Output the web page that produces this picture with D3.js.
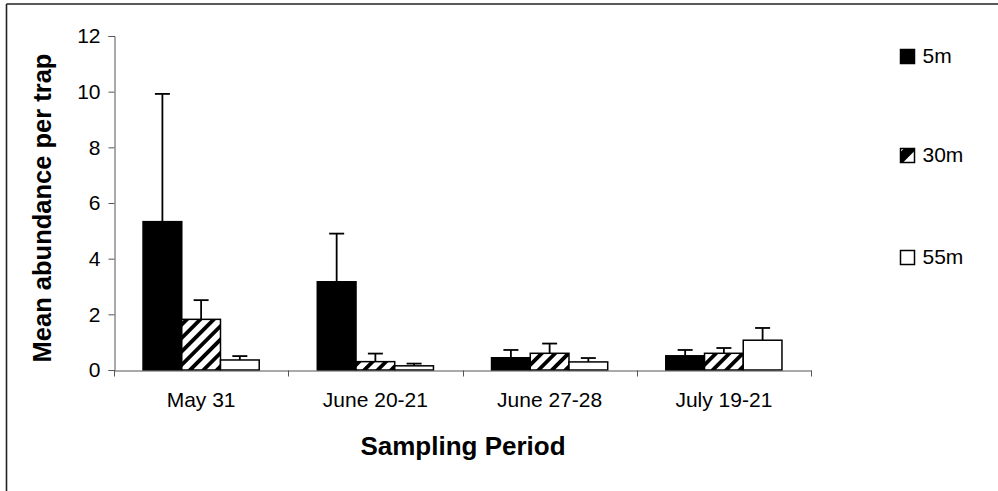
<!DOCTYPE html>
<html>
<head>
<meta charset="utf-8">
<script src="https://cdn.jsdelivr.net/npm/d3@7"></script>
<style>
  body { margin: 0; background: #fff; }
  svg { display: block; font-family: Arial, "Liberation Sans", sans-serif; }
</style>
</head>
<body>
<svg id="chart" width="998" height="491"></svg>
<script>
// data
var periods = ["May 31", "June 20-21", "June 27-28", "July 19-21"];
var depths = ["5m", "30m", "55m"];
var mean5 = [5.33, 3.17, 0.44, 0.51];
var mean30 = [1.82, 0.30, 0.60, 0.60];
var mean55 = [0.36, 0.15, 0.29, 1.07];
var err5 = [9.92, 4.90, 0.72, 0.72];
var err30 = [2.51, 0.59, 0.95, 0.79];
var err55 = [0.50, 0.23, 0.43, 1.51];
var yTicks = [0, 2, 4, 6, 8, 10, 12];

var means = [mean5, mean30, mean55];
var errs = [err5, err30, err55];

var svg = d3.select("#chart");

// hatch pattern for 30m
var defs = svg.append("defs");
defs.append("pattern")
	.attr("id", "hatch")
	.attr("patternUnits", "userSpaceOnUse")
	.attr("width", 9.5).attr("height", 9.5)
	.attr("patternTransform", "rotate(45)")
	.call(function(p) {
		p.append("rect").attr("width", 9.5).attr("height", 9.5).attr("fill", "white");
		p.append("rect").attr("width", 3.8).attr("height", 9.5).attr("fill", "black");
	});

var fills = ["black", "url(#hatch)", "white"];

// chart border (cut off at right and bottom)
svg.append("line").attr("x1", 6.5).attr("x2", 998).attr("y1", 4).attr("y2", 4)
	.attr("stroke", "#222").attr("stroke-width", 1.6);
svg.append("line").attr("x1", 6.5).attr("x2", 6.5).attr("y1", 4).attr("y2", 491)
	.attr("stroke", "#222").attr("stroke-width", 1.6);

var x0 = d3.scaleBand().domain(periods).range([114, 811]);
var x1 = d3.scaleBand().domain(depths).range([0, x0.bandwidth()]).paddingInner(0).paddingOuter(0.75);
var y = d3.scaleLinear().domain([0, 12]).range([370, 36]);

// y axis
var yAxis = svg.append("g")
	.attr("transform", "translate(114.5,0)")
	.call(d3.axisLeft(y).tickValues(yTicks).tickSize(6).tickPadding(8));
yAxis.select(".domain").attr("stroke", "#555");
yAxis.selectAll(".tick line").attr("stroke", "#555");
yAxis.selectAll(".tick text").attr("font-size", 21).attr("fill", "black")
	.attr("font-family", "Arial, 'Liberation Sans', sans-serif");

// bars
var groups = svg.append("g").selectAll("g")
	.data(periods)
	.enter().append("g")
	.attr("transform", function(d) { return "translate(" + x0(d) + ",0)" });

groups.selectAll("rect")
	.data(function(d, i) { return depths.map(function(s, j) { return {s: s, j: j, v: means[j][i], e: errs[j][i]} }) })
	.enter().append("rect")
	.attr("x", function(d) { return x1(d.s) })
	.attr("y", function(d) { return y(d.v) })
	.attr("width", x1.bandwidth())
	.attr("height", function(d) { return y(0) - y(d.v) })
	.attr("fill", function(d) { return fills[d.j] })
	.attr("stroke", "black")
	.attr("stroke-width", 1.5);

// error bars (upper only)
var eb = groups.selectAll("g.err")
	.data(function(d, i) { return depths.map(function(s, j) { return {s: s, j: j, v: means[j][i], e: errs[j][i]} }) })
	.enter().append("g").attr("class", "err");
eb.append("line")
	.attr("x1", function(d) { return x1(d.s) + x1.bandwidth() / 2 })
	.attr("x2", function(d) { return x1(d.s) + x1.bandwidth() / 2 })
	.attr("y1", function(d) { return y(d.v) })
	.attr("y2", function(d) { return y(d.e) })
	.attr("stroke", "black").attr("stroke-width", 1.8);
eb.append("line")
	.attr("x1", function(d) { return x1(d.s) + x1.bandwidth() / 2 - 7.5 })
	.attr("x2", function(d) { return x1(d.s) + x1.bandwidth() / 2 + 7.5 })
	.attr("y1", function(d) { return y(d.e) })
	.attr("y2", function(d) { return y(d.e) })
	.attr("stroke", "black").attr("stroke-width", 1.8);

// x axis
var xAxis = svg.append("g")
	.attr("transform", "translate(0,370.5)")
	.call(d3.axisBottom(x0).tickSize(0).tickPadding(22));
xAxis.select(".domain").attr("stroke", "#555");
xAxis.selectAll(".tick text").attr("font-size", 21).attr("fill", "black")
	.attr("font-family", "Arial, 'Liberation Sans', sans-serif");
var bounds = periods.map(function(p) { return x0(p) }).concat([x0.range()[1]]);
xAxis.selectAll("line.bound")
	.data(bounds)
	.enter().append("line").attr("class", "bound")
	.attr("x1", function(d) { return Math.round(d) + 0.5 })
	.attr("x2", function(d) { return Math.round(d) + 0.5 })
	.attr("y1", 0).attr("y2", 6)
	.attr("stroke", "#555");

// axis titles
svg.append("text")
	.attr("transform", "translate(51,208) rotate(-90)")
	.attr("text-anchor", "middle")
	.attr("font-size", 25.5).attr("font-weight", "bold")
	.text("Mean abundance per trap");
svg.append("text")
	.attr("x", 463).attr("y", 455)
	.attr("text-anchor", "middle")
	.attr("font-size", 26).attr("font-weight", "bold")
	.text("Sampling Period");

// legend
var legY = [49, 148, 250];
var legFills = ["black", "white", "white"];
var leg = svg.append("g").selectAll("g")
	.data(depths)
	.enter().append("g")
	.attr("transform", function(d, i) { return "translate(900," + legY[i] + ")" });
leg.append("rect")
	.attr("x", 0.5).attr("y", 0.5)
	.attr("width", 14).attr("height", 14)
	.attr("fill", function(d, i) { return legFills[i] })
	.attr("stroke", "black").attr("stroke-width", 1.5);
leg.filter(function(d, i) { return i == 1 }).append("path")
	.attr("d", "M0.5,14.5 L0.5,4 L4,0.5 L14.5,0.5 L14.5,3 L3,14.5 Z")
	.attr("fill", "black");
leg.append("text")
	.attr("x", 22.5).attr("y", 13.5)
	.attr("font-size", 21)
	.text(function(d) { return d });
</script>
</body>
</html>
